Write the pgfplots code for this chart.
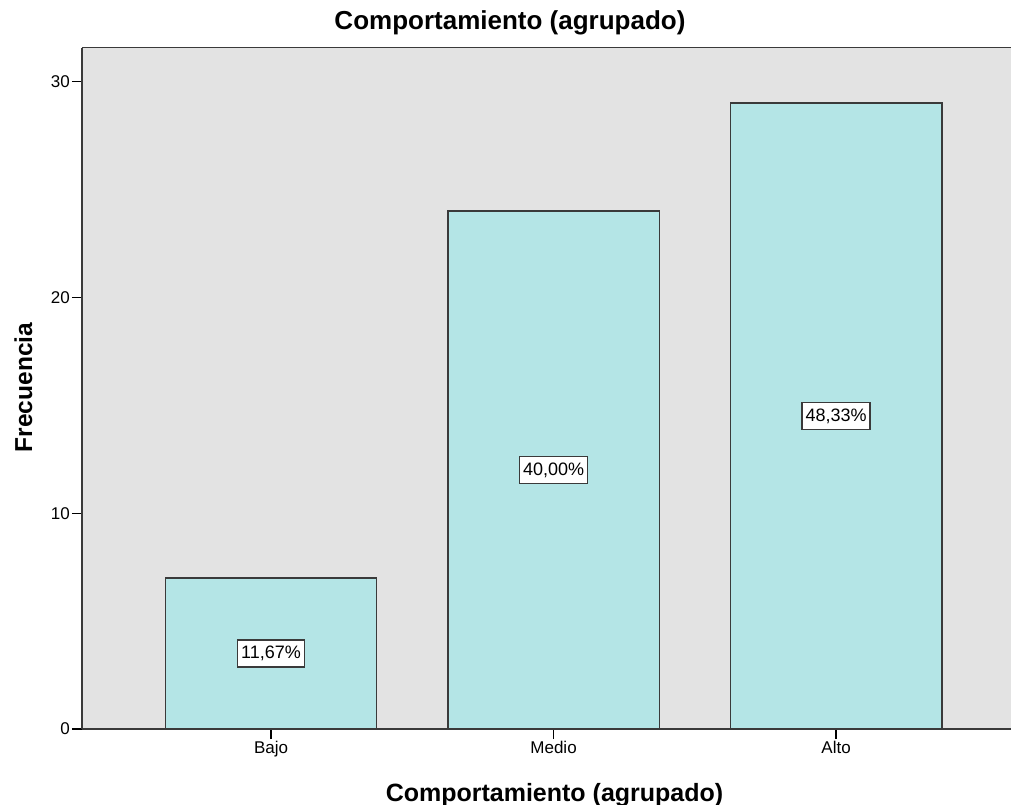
\documentclass[border=0pt]{standalone}
\usepackage{pgfplots}
\pgfplotsset{compat=1.18}
\usepackage{fontspec}
\setmainfont{Liberation Sans}
\definecolor{barfill}{HTML}{B4E5E6}
\definecolor{bg}{HTML}{E3E3E3}
\definecolor{frame}{HTML}{3A3A3A}
\begin{document}
\begin{tikzpicture}[x=1pt,y=1pt]
\useasboundingbox (0,0) rectangle (1011,805);
\begin{axis}[
  at={(82pt,76pt)}, anchor=south west,
  width=929pt, height=681.3pt, scale only axis,
  xmin=-0.669, xmax=2.619, ymin=0, ymax=31.57,
  axis background/.style={fill=bg},
  axis lines*=left,
  axis line style={frame, line width=1.6pt},
  xtick={0,1,2}, xticklabels={Bajo,Medio,Alto},
  ytick={0,10,20,30},
  tick align=outside,
  major tick length=10pt,
  tick style={black, line width=1.3pt},
  tick label style={font=\fontsize{17}{20}\selectfont},
  yticklabel style={inner sep=2pt},
  xticklabel style={inner sep=2pt},
  /pgf/number format/assume math mode=true,
  title={Comportamiento (agrupado)},
  title style={at={(axis description cs:0.4607,1.0172)}, anchor=base, font=\bfseries\fontsize{26}{30}\selectfont, inner sep=0pt},
  xlabel={Comportamiento (agrupado)},
  xlabel style={at={(axis description cs:0.5086,-0.1057)}, anchor=base, font=\bfseries\fontsize{25}{30}\selectfont, inner sep=0pt},
  ylabel={Frecuencia},
  ylabel style={at={(axis description cs:-0.0538,0.5012)}, anchor=base, font=\bfseries\fontsize{24.5}{30}\selectfont, inner sep=0pt},
  clip=false,
]
\addplot[ybar, bar width=211.5pt, fill=barfill, draw=frame, line width=1.4pt]
  coordinates {(0,7) (1,24) (2,29)};
\addplot[draw=none, mark=none, forget plot,
  point meta=explicit,
  nodes near coords={\pgfmathprintnumber[fixed,fixed zerofill,precision=2,use comma]{\pgfplotspointmeta}\%},
  every node near coord/.append style={anchor=center, fill=white, draw=frame, line width=1.3pt,
     inner xsep=3.5pt, inner ysep=6pt, font=\fontsize{18}{20}\selectfont, text=black}]
  table[meta=p] {
x y p
0 3.5 11.67
1 12 40.00
2 14.5 48.33
};
\draw[frame, line width=1.6pt] (rel axis cs:0,1) -- (rel axis cs:1,1);
\end{axis}
\end{tikzpicture}
\end{document}
